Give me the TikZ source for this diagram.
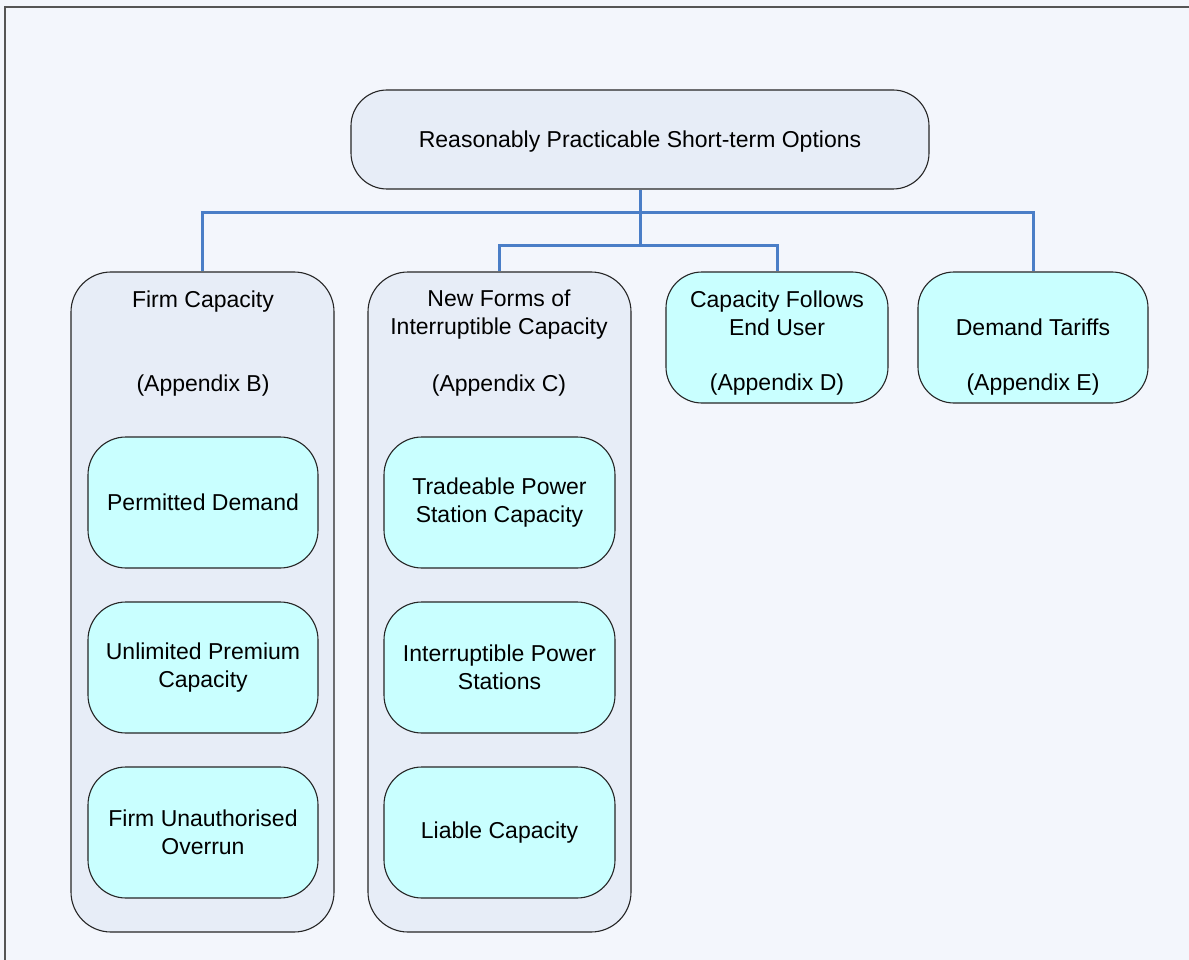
\documentclass[tikz,border=0pt]{standalone}
\usepackage{fontspec}
\setmainfont{Liberation Sans}
\definecolor{bgc}{HTML}{F3F6FC}
\definecolor{outerc}{HTML}{E7EDF7}
\definecolor{cyanc}{HTML}{C9FFFF}
\definecolor{linec}{HTML}{4A7EC7}
\definecolor{framec}{HTML}{555555}
\tikzset{
  box/.style={draw=black!85, line width=1.1pt, rounded corners=36pt, inner sep=0pt},
  outerbox/.style={box, fill=outerc},
  cyanbox/.style={box, fill=cyanc},
  txt/.style={font=\fontsize{23}{28}\selectfont, align=center, inner sep=0pt, text=black},
  conn/.style={draw=linec, line width=3pt}
}
\begin{document}
\begin{tikzpicture}[x=1pt,y=-1pt]
\fill[bgc] (0,0) rectangle (1189,960);
\useasboundingbox (0,0) rectangle (1189,960);
\draw[framec, line width=1.6pt] (5,960) -- (5,7) -- (1189,7);
% top
\node[outerbox, minimum width=578pt, minimum height=99pt] (top) at (640,139.5) {};
\node[txt] (toptxt) at (640,141.5) {Reasonably Practicable Short-term Options};
% columns
\node[outerbox, minimum width=263pt, minimum height=660pt, rounded corners=40pt] (firm) at (202.5,602) {};
\node[outerbox, minimum width=263pt, minimum height=660pt, rounded corners=40pt] (newf) at (499.5,602) {};
\node[cyanbox, minimum width=222pt, minimum height=131pt] (cfeu) at (777,337.5) {};
\node[cyanbox, minimum width=230pt, minimum height=131pt] (dt) at (1033,337.5) {};
% connectors
\coordinate (j1) at (640,213);
\coordinate (j2) at (640,246);
\draw[conn] (top.south) -- (j1);
\draw[conn] (j1) -- (j2);
\draw[conn] (firm.north) |- (j1) -| (dt.north);
\draw[conn] (newf.north) |- (j2) -| (cfeu.north);
% column texts
\node[txt] (firmt) at (203,301.5) {Firm Capacity};
\node[txt] (firma) at (203,385.5) {(Appendix B)};
\node[txt] (newft) at (499,315) {New Forms of\\Interruptible Capacity};
\node[txt] (newfa) at (499,385.5) {(Appendix C)};
\node[txt] (cfeut) at (777,313) {Capacity Follows\\End User};
\node[txt] (cfeua) at (777,384.5) {(Appendix D)};
\node[txt] (dtt) at (1033,327.5) {Demand Tariffs};
\node[txt] (dta) at (1033,384.5) {(Appendix E)};
% inner boxes
\tikzset{inner/.style={cyanbox, txt, draw=black!85, line width=1.1pt, rounded corners=38pt, minimum width=230pt, minimum height=131pt}}
\node[inner] (pd) at (203,502.5) {Permitted Demand};
\node[inner] (upc) at (203,667.5) {Unlimited Premium\\Capacity};
\node[inner] (fuo) at (203,832.5) {Firm Unauthorised\\Overrun};
\node[inner, minimum width=231pt] (tpsc) at (499.5,502.5) {Tradeable Power\\Station Capacity};
\node[inner, minimum width=231pt] (ips) at (499.5,667.5) {Interruptible Power\\Stations};
\node[inner, minimum width=231pt] (lc) at (499.5,832.5) {Liable Capacity};
\end{tikzpicture}
\end{document}
